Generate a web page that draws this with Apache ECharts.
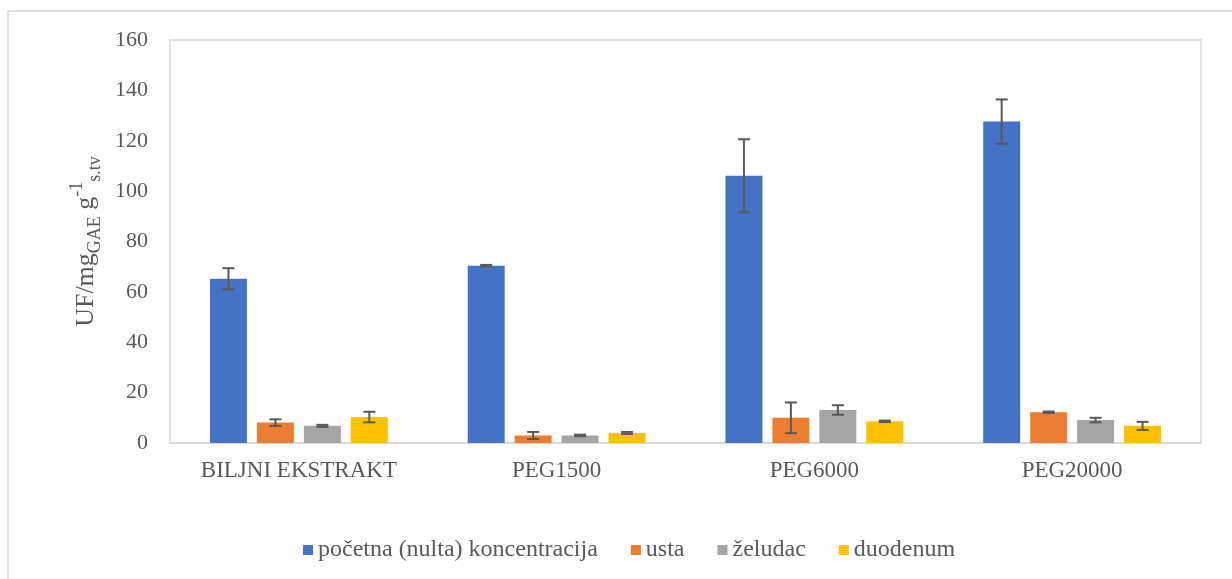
<!DOCTYPE html>
<html>
<head>
<meta charset="utf-8">
<script src="https://cdn.jsdelivr.net/npm/echarts@6/dist/echarts.min.js"></script>
<style>
html,body{margin:0;padding:0;background:#fff;}
#main{width:1232px;height:579px;}
</style>
</head>
<body>
<div id="main"></div>
<script>
const categories = ['BILJNI EKSTRAKT', 'PEG1500', 'PEG6000', 'PEG20000'];
const seriesNames = ['početna (nulta) koncentracija', 'usta', 'želudac', 'duodenum'];
const pocetna = [65.2, 70.4, 106.1, 127.6];
const usta = [8.1, 3.0, 10.0, 12.2];
const zeludac = [6.8, 3.0, 13.1, 9.1];
const duodenum = [10.3, 4.0, 8.6, 6.8];
const errPocetna = [4.2, 0.3, 14.5, 8.8];
const errUsta = [1.3, 1.4, 6.1, 0.3];
const errZeludac = [0.4, 0.3, 1.9, 0.9];
const errDuodenum = [2.1, 0.4, 0.3, 1.6];
const yTicks = [0, 20, 40, 60, 80, 100, 120, 140, 160];

const colors = ['#4472C4', '#ED7D31', '#A5A5A5', '#FFC000'];
const values = [pocetna, usta, zeludac, duodenum];
const errors = [errPocetna, errUsta, errZeludac, errDuodenum];
const CAT_GAP = 0.31, BAR_GAP = 0.27, N = 4;
const FONT = '"Liberation Serif", "Times New Roman", serif';
const TXT = '#595959';

const series = [];
values.forEach((vals, i) => {
  series.push({
    name: seriesNames[i], type: 'bar', data: vals,
    itemStyle: {color: colors[i]},
    barGap: (BAR_GAP * 100) + '%', barCategoryGap: (CAT_GAP * 100) + '%'
  });
});
values.forEach((vals, i) => {
  const errData = vals.map((v, k) => [k, v - errors[i][k], v + errors[i][k]]);
  series.push({
    type: 'custom', name: seriesNames[i] + '_err', z: 10, silent: true,
    data: errData,
    encode: {x: 0, y: [1, 2]},
    renderItem: function (params, api) {
      const k = api.value(0);
      const lo = api.coord([k, api.value(1)]);
      const hi = api.coord([k, api.value(2)]);
      const band = api.size([1, 0])[0];
      const bw = band * (1 - CAT_GAP) / (N + (N - 1) * BAR_GAP);
      const total = N * bw + (N - 1) * BAR_GAP * bw;
      const x = lo[0] - total / 2 + i * bw * (1 + BAR_GAP) + bw / 2;
      const cap = 6;
      const st = {stroke: '#595959', lineWidth: 2};
      return {type: 'group', children: [
        {type: 'line', shape: {x1: x, y1: hi[1], x2: x, y2: lo[1]}, style: st},
        {type: 'line', shape: {x1: x - cap, y1: hi[1], x2: x + cap, y2: hi[1]}, style: st},
        {type: 'line', shape: {x1: x - cap, y1: lo[1], x2: x + cap, y2: lo[1]}, style: st}
      ]};
    }
  });
});

const chart = echarts.init(document.getElementById('main'), null, {renderer: 'canvas'});
chart.setOption({
  backgroundColor: '#fff',
  animation: false,
  textStyle: {fontFamily: FONT},
  graphic: [{
    type: 'rect', silent: true, z: -10,
    shape: {x: 8, y: 11, width: 1300, height: 700},
    style: {fill: 'none', stroke: '#D9D9D9', lineWidth: 1.5}
  }],
  grid: {left: 170, top: 40, right: 31, bottom: 136, show: true, borderColor: '#E3E3E3', borderWidth: 2, backgroundColor: 'transparent'},
  legend: {
    data: seriesNames, bottom: 12, left: 298,
    itemWidth: 10, itemHeight: 10, itemGap: 33, icon: 'rect',
    textStyle: {fontFamily: FONT, fontSize: 24, color: TXT}
  },
  xAxis: {
    type: 'category', data: categories,
    axisLine: {show: true, lineStyle: {color: '#D9D9D9', width: 2}},
    axisTick: {show: false},
    axisLabel: {fontFamily: FONT, fontSize: 23, color: TXT, margin: 16}
  },
  yAxis: {
    type: 'value', min: 0, max: 160, interval: 20,
    axisLine: {show: false}, axisTick: {show: false},
    splitLine: {show: false},
    axisLabel: {fontFamily: FONT, fontSize: 22, color: TXT, margin: 22,
      formatter: v => yTicks.includes(v) ? String(v) : ''},
    name: '{b|UF/mg}{sub|GAE}{b| g}{sup|-1}{sub|s.tv}',
    nameLocation: 'middle', nameGap: 58, nameRotate: 90,
    nameTextStyle: {
      fontFamily: FONT, color: TXT,
      rich: {
        b: {fontFamily: FONT, fontSize: 26, color: TXT, lineHeight: 36, verticalAlign: 'middle'},
        sub: {fontFamily: FONT, fontSize: 18, color: TXT, lineHeight: 36, verticalAlign: 'bottom', padding: [11, 0, 0, 0]},
        sup: {fontFamily: FONT, fontSize: 18, color: TXT, lineHeight: 36, verticalAlign: 'top', padding: [0, 0, 11, 0]}
      }
    }
  },
  series: series
});
</script>
</body>
</html>
